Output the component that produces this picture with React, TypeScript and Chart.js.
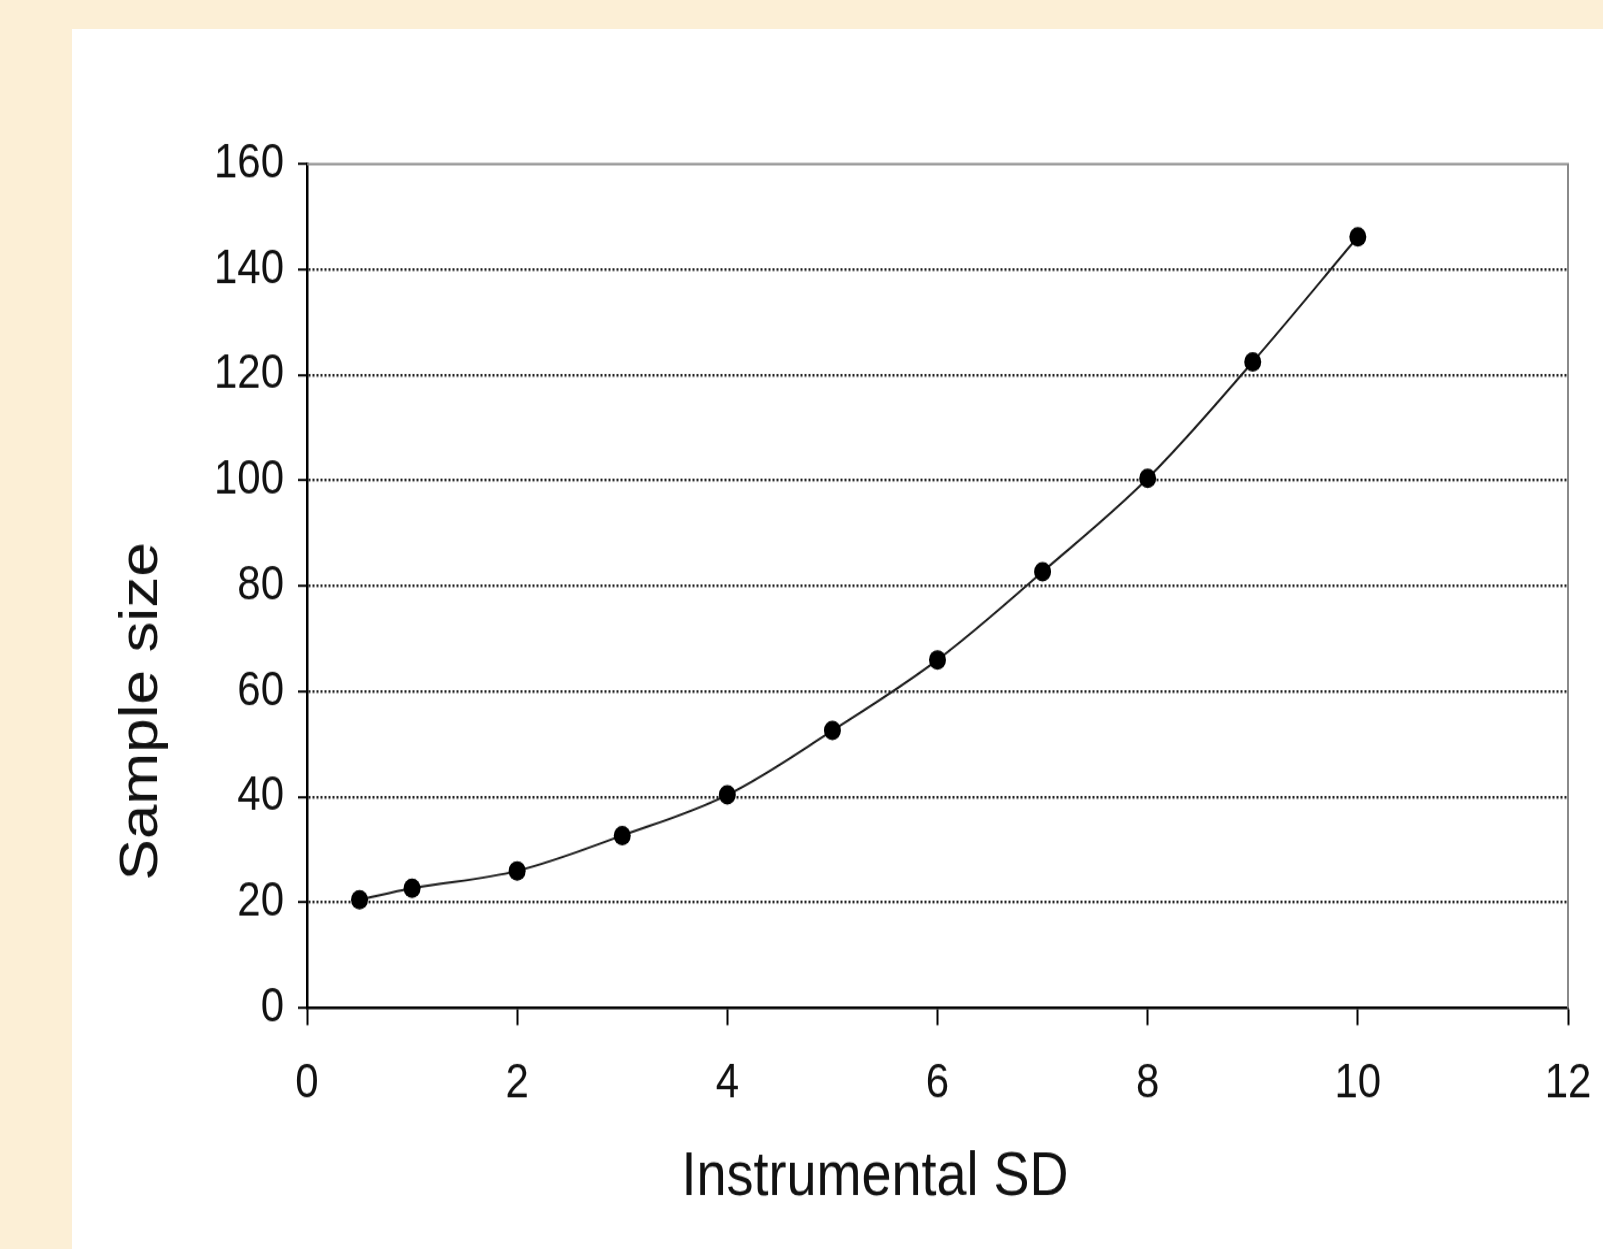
import React, { useEffect, useRef } from "react";
import { Chart, registerables } from "chart.js";

Chart.register(...registerables);

const xValues = [0.5, 1, 2, 3, 4, 5, 6, 7, 8, 9, 10];
const sampleSize = [20.5, 22.7, 26.0, 32.7, 40.4, 52.6, 66.0, 82.7, 100.4, 122.5, 146.2];
const xTitle = "Instrumental SD";
const yTitle = "Sample size";
const xMax = 12;
const xStep = 2;
const yMax = 160;
const yStep = 20;

// the reference picture is stretched vertically; the canvas is drawn and then stretched the same way
const PANEL_W = 1531;
const PANEL_H = 1220;
const CANVAS_H = 1061;
const STRETCH = PANEL_H / CANVAS_H;

const tickFont = { family: '"Liberation Sans", Arial, sans-serif', size: 42 };

const framePlugin = {
  id: "frame",
  afterDraw(chart: any) {
    const { ctx, chartArea } = chart;
    const { left, right, top, bottom } = chartArea;
    ctx.save();
    ctx.strokeStyle = "#8a8a8a";
    ctx.lineWidth = 2;
    ctx.beginPath();
    ctx.moveTo(left, top);
    ctx.lineTo(right, top);
    ctx.lineTo(right, bottom);
    ctx.stroke();
    ctx.fillStyle = "#111";
    ctx.textAlign = "center";
    ctx.textBaseline = "alphabetic";
    ctx.font = '54px "Liberation Sans", Arial, sans-serif';
    ctx.fillText(xTitle, left + 568, bottom + 163);
    ctx.translate(left - 150, top + 476);
    ctx.rotate(-Math.PI / 2);
    ctx.fillText(yTitle, 0, 0);
    ctx.restore();
  },
};

export default function App() {
  const ref = useRef<HTMLCanvasElement>(null);
  useEffect(() => {
    const chart = new Chart(ref.current as HTMLCanvasElement, {
      type: "scatter",
      data: {
        datasets: [
          {
            data: xValues.map((x, i) => ({ x, y: sampleSize[i] })),
            showLine: true,
            borderColor: "#1a1a1a",
            borderWidth: 2,
            tension: 0.35,
            pointRadius: 8.5,
            pointBackgroundColor: "#000",
            pointBorderColor: "#000",
            pointBorderWidth: 0,
          },
        ],
      },
      options: {
        animation: false,
        responsive: true,
        maintainAspectRatio: false,
        devicePixelRatio: 1,
        layout: { padding: { left: 0, top: 117.4, right: 35, bottom: 0 } },
        plugins: { legend: { display: false }, tooltip: { enabled: false } },
        scales: {
          x: {
            type: "linear",
            min: 0,
            max: xMax,
            afterFit: (s: any) => {
              s.height = 209.6;
              s.paddingLeft = 0;
              s.paddingRight = 0;
            },
            ticks: { stepSize: xStep, font: tickFont, color: "#111", padding: 26, maxRotation: 0 },
            grid: { drawOnChartArea: false, drawTicks: true, tickLength: 15, tickColor: "#000", tickWidth: 2 },
            border: { display: true, color: "#000", width: 2.5 },
          },
          y: {
            min: 0,
            max: yMax,
            afterFit: (s: any) => {
              s.width = 235;
            },
            ticks: { stepSize: yStep, font: tickFont, color: "#111", padding: 14 },
            grid: {
              color: (c: any) =>
                c.tick && (c.tick.value === 0 || c.tick.value === yMax) ? "rgba(0,0,0,0)" : "#1e1e1e",
              lineWidth: 2.4,
              drawTicks: true,
              tickLength: 9,
              tickColor: "#000",
              tickWidth: 2,
            },
            border: { display: true, color: "#000", width: 2.5, dash: [2, 2] },
          },
        },
      },
      plugins: [framePlugin],
    });
    return () => chart.destroy();
  }, []);
  return (
    <div
      style={{
        position: "fixed",
        left: 0,
        top: 0,
        width: 1603,
        height: 1249,
        background: "#fcefd6",
        overflow: "hidden",
      }}
    >
      <div
        style={{
          position: "absolute",
          left: 72,
          top: 29,
          width: PANEL_W,
          height: PANEL_H,
          background: "#fff",
        }}
      >
        <div
          style={{
            position: "relative",
            width: PANEL_W,
            height: CANVAS_H,
            transform: `scaleY(${STRETCH})`,
            transformOrigin: "0 0",
          }}
        >
          <canvas ref={ref} />
        </div>
      </div>
    </div>
  );
}
